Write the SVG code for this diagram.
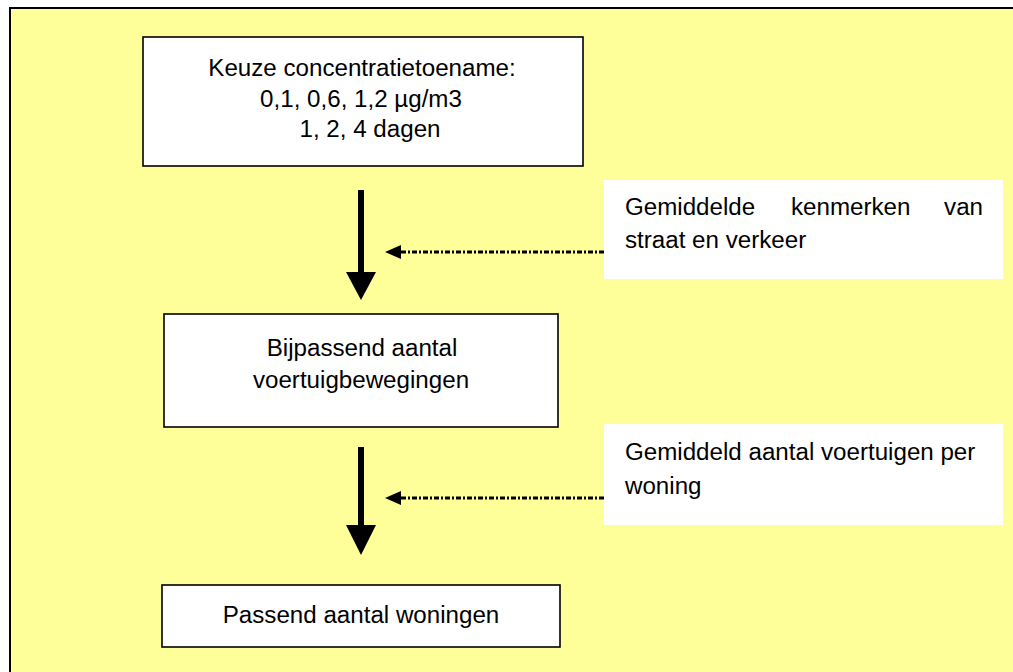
<svg xmlns="http://www.w3.org/2000/svg" width="1013" height="672" viewBox="0 0 1013 672">
<style>
.box{fill:#fff;stroke:#000;stroke-width:1.6}
.note{fill:#fff;stroke:none}
.t{font-family:"Liberation Sans",Arial,sans-serif;font-size:23px;fill:#000}
.m{text-anchor:middle}
.e{text-anchor:end}
.dot{stroke:#000;stroke-width:3;stroke-dasharray:5 2 2 2;fill:none}
</style>
<rect id="background" x="10" y="8" width="1010" height="670" fill="#FFFF99" stroke="#000" stroke-width="2"/>
<g id="connectors">
<rect x="358" y="190" width="6" height="83" fill="#000"/>
<polygon points="346,272 376,272 361,300" fill="#000"/>
<rect x="358" y="447" width="6" height="79" fill="#000"/>
<polygon points="346,525 376,525 361,555" fill="#000"/>
<line class="dot" x1="604" y1="252" x2="400" y2="252"/>
<polygon points="385,252 401,245 401,259" fill="#000"/>
<line class="dot" x1="604" y1="498" x2="400" y2="498"/>
<polygon points="385,498 401,491 401,505" fill="#000"/>
</g>
<g id="node-keuze">
<rect class="box" x="143" y="37" width="440" height="129"/>
<text class="t m" transform="translate(362,76) scale(1.05,1)">Keuze concentratietoename:</text>
<text class="t m" transform="translate(361,106.5) scale(1.05,1)">0,1, 0,6, 1,2 µg/m3</text>
<text class="t m" transform="translate(370,137) scale(1.05,1)">1, 2, 4 dagen</text>
</g>
<g id="node-kenmerken">
<rect class="note" x="604" y="180" width="399" height="99"/>
<text class="t" transform="translate(625,215) scale(1.05,1)">Gemiddelde</text>
<text class="t" transform="translate(791,215) scale(1.05,1)">kenmerken</text>
<text class="t e" transform="translate(983,215) scale(1.05,1)">van</text>
<text class="t" transform="translate(625,248) scale(1.05,1)">straat en verkeer</text>
</g>
<g id="node-bijpassend">
<rect class="box" x="164" y="314" width="394" height="113"/>
<text class="t m" transform="translate(362,356) scale(1.05,1)">Bijpassend aantal</text>
<text class="t m" transform="translate(361,388) scale(1.05,1)">voertuigbewegingen</text>
</g>
<g id="node-voertuigen">
<rect class="note" x="604" y="424" width="399" height="101"/>
<text class="t" transform="translate(625,460) scale(1.05,1)">Gemiddeld aantal voertuigen per</text>
<text class="t" transform="translate(625,494) scale(1.05,1)">woning</text>
</g>
<g id="node-woningen">
<rect class="box" x="162" y="585" width="398" height="62"/>
<text class="t m" transform="translate(361,623) scale(1.05,1)">Passend aantal woningen</text>
</g>
</svg>
